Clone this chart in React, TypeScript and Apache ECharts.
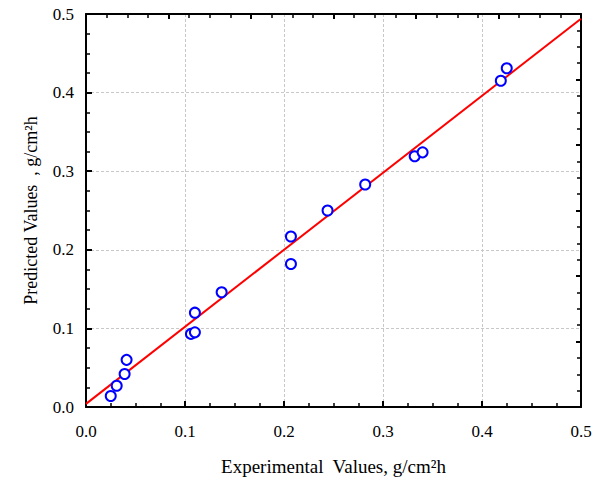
import React, { useEffect, useRef } from "react";
import * as echarts from "echarts";

const experimental = [0.025, 0.031, 0.039, 0.041, 0.106, 0.11, 0.11, 0.137, 0.207, 0.207, 0.244, 0.282, 0.332, 0.34, 0.419, 0.425];
const predicted = [0.014, 0.027, 0.042, 0.060, 0.093, 0.095, 0.120, 0.146, 0.217, 0.182, 0.250, 0.283, 0.319, 0.324, 0.415, 0.431];
const fitX = [0, 0.5];
const fitY = [0.004, 0.494];
const tickValues = [0, 0.1, 0.2, 0.3, 0.4, 0.5];

const FONT = "Liberation Serif";

export default function App() {
  const ref = useRef<HTMLDivElement>(null);
  useEffect(() => {
    if (!ref.current) return;
    const chart = echarts.init(ref.current, undefined, { renderer: "svg" });
    const axisCommon = {
      min: tickValues[0],
      max: tickValues[tickValues.length - 1],
      interval: 0.1,
      axisLine: { show: true, onZero: false, lineStyle: { color: "#000", width: 2 } },
      axisTick: { show: true, inside: true, length: 6, lineStyle: { color: "#000", width: 2 } },
      minorTick: { show: true, splitNumber: 4, length: 4, lineStyle: { color: "#000", width: 1.5 } },
      axisLabel: {
        color: "#000",
        fontFamily: FONT,
        fontSize: 17,
        formatter: (v: number) => v.toFixed(1),
      },
      splitLine: { show: true, lineStyle: { color: "#c8c8c8", type: [3, 2], width: 1 } },
      nameLocation: "middle" as const,
      nameTextStyle: { color: "#000", fontFamily: FONT, fontSize: 18 },
    };
    const secondary = {
      min: 0,
      max: 6,
      interval: 1,
      axisLine: { show: true, onZero: false, lineStyle: { color: "#000", width: 2 } },
      axisTick: { show: true, inside: true, length: 5, lineStyle: { color: "#000", width: 2 } },
      minorTick: { show: true, splitNumber: 4, length: 4, lineStyle: { color: "#000", width: 1.5 } },
      axisLabel: { show: false },
      splitLine: { show: false },
    };
    chart.setOption({
      animation: false,
      backgroundColor: "#fff",
      grid: { left: 86, top: 14, right: 22, bottom: 75 },
      xAxis: [
        {
          type: "value",
          position: "bottom",
          ...axisCommon,
          axisLabel: { ...axisCommon.axisLabel, margin: 16 },
          name: "Experimental  Values, g/cm²h",
          nameGap: 50,
          nameTextStyle: { ...axisCommon.nameTextStyle, fontSize: 19 },
        },
        { type: "value", position: "top", ...secondary },
      ],
      yAxis: [
        {
          type: "value",
          position: "left",
          ...axisCommon,
          axisLabel: { ...axisCommon.axisLabel, margin: 12 },
          name: "Predicted Values  , g/cm²h",
          nameGap: 46,
        },
        { type: "value", position: "right", ...secondary },
      ],
      series: [
        {
          type: "line",
          xAxisIndex: 0,
          yAxisIndex: 0,
          data: fitX.map((x, i) => [x, fitY[i]]),
          showSymbol: false,
          symbol: "none",
          lineStyle: { color: "#ff0000", width: 2 },
          z: 2,
        },
        {
          type: "scatter",
          xAxisIndex: 0,
          yAxisIndex: 0,
          data: experimental.map((x, i) => [x, predicted[i]]),
          symbol: "emptyCircle",
          symbolSize: 10,
          itemStyle: { color: "#0000ff", borderColor: "#0000ff", borderWidth: 2, opacity: 1 },
          z: 3,
        },
      ],
    });
    return () => chart.dispose();
  }, []);
  return (
    <div
      ref={ref}
      style={{ position: "absolute", left: 0, top: 0, width: 603, height: 482 }}
    />
  );
}
